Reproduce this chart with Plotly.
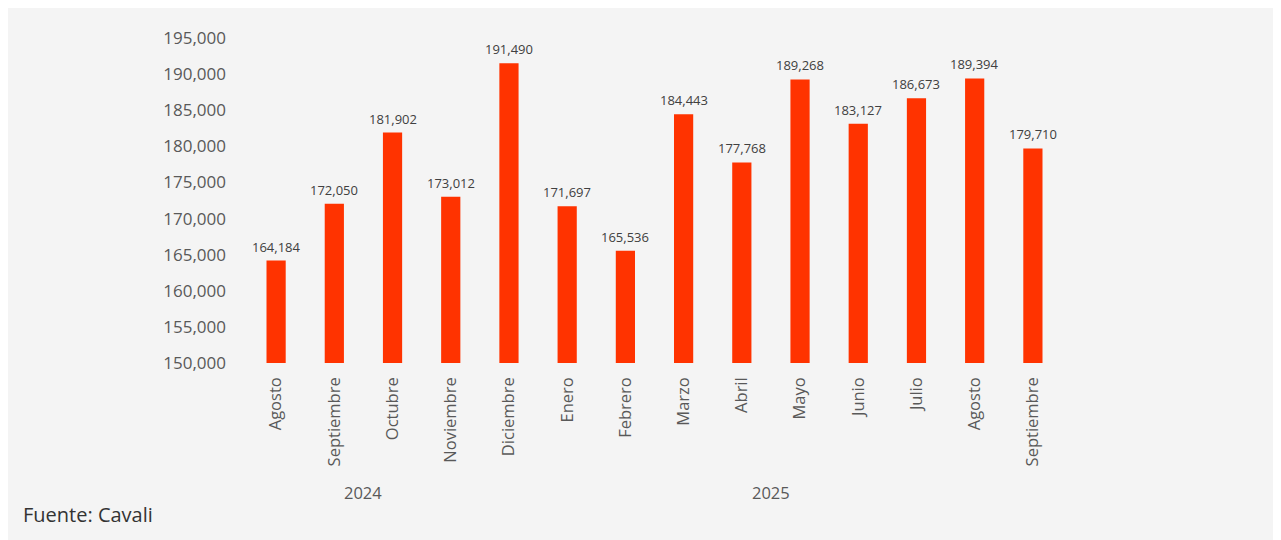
import plotly.graph_objects as go

months = ["Agosto", "Septiembre", "Octubre", "Noviembre", "Diciembre",
          "Enero", "Febrero", "Marzo", "Abril", "Mayo", "Junio", "Julio",
          "Agosto", "Septiembre"]
values = [164184, 172050, 181902, 173012, 191490, 171697, 165536,
          184443, 177768, 189268, 183127, 186673, 189394, 179710]
years = ["2024", "2025"]
year_pos = [1.5, 8.5]
y_ticks = [150000, 155000, 160000, 165000, 170000, 175000, 180000,
           185000, 190000, 195000]

xs = list(range(len(months)))

fig = go.Figure()
fig.add_trace(go.Bar(
    x=xs, y=values,
    marker=dict(color="#FF3300", line=dict(width=0)),
    width=0.33,
    cliponaxis=False,
))

for x, v in zip(xs, values):
    fig.add_annotation(x=x, y=v, xref="x", yref="y", text=f"{v:,}",
                       showarrow=False, yanchor="bottom", yshift=3,
                       font=dict(family="Open Sans", size=13, color="#404040"))

OFF = 8
W, H = 1270, 540
ml, mr, mt, mb = 239, 216, 30, 185
pw, ph = W - ml - mr, H - mt - mb

def px_x(p):
    return (p - OFF - ml) / pw

def px_y(p):
    return (H - mb - (p - OFF)) / ph

for yr, pos in zip(years, year_pos):
    fig.add_annotation(x=pos, xref="x", y=px_y(493), yref="paper",
                       text=yr, showarrow=False, yanchor="middle",
                       font=dict(family="Open Sans", size=16.5, color="#595959"))

fig.add_annotation(x=px_x(23), xref="paper", y=px_y(514), yref="paper",
                   text="Fuente: Cavali", showarrow=False,
                   xanchor="left", yanchor="middle", xshift=-2,
                   font=dict(family="Open Sans", size=20, color="#333333"))

fig.update_layout(
    width=W, height=H,
    margin=dict(l=ml, r=mr, t=mt, b=mb),
    paper_bgcolor="#F4F4F4", plot_bgcolor="rgba(0,0,0,0)",
    showlegend=False,
    xaxis=dict(tickmode="array", tickvals=xs, ticktext=months,
               range=[-0.5, len(months) - 0.5], tickangle=-90,
               showgrid=False, zeroline=False, showline=False,
               ticks="", ticklabelstandoff=10,
               tickfont=dict(family="Open Sans", size=16.5, color="#595959")),
    yaxis=dict(range=[150000, 195000], tickmode="array", tickvals=y_ticks,
               ticktext=[f"{v:,}" for v in y_ticks],
               showgrid=False, zeroline=False, showline=False,
               ticks="", ticklabelstandoff=20,
               tickfont=dict(family="Open Sans", size=17, color="#595959")),
)

fig.write_html("out.html")
